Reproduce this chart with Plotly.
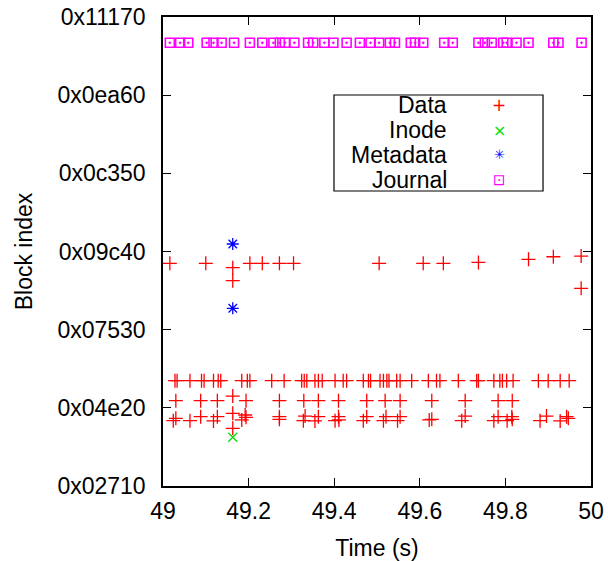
import plotly.graph_objects as go

# ---- data (time in s, block index) ----
journal_t = [49.016, 49.040, 49.059, 49.102, 49.118, 49.137, 49.166, 49.203, 49.232,
             49.258, 49.273, 49.285, 49.307, 49.339, 49.351, 49.377, 49.398, 49.429,
             49.460, 49.485, 49.505, 49.530, 49.542, 49.579, 49.589, 49.608, 49.657,
             49.677, 49.737, 49.752, 49.768, 49.795, 49.803, 49.826, 49.854, 49.912,
             49.924, 49.978]
journal_b = [66700] * len(journal_t)

data_hi_t = [49.016, 49.100, 49.163, 49.163, 49.203, 49.232, 49.272, 49.305, 49.505,
             49.608, 49.655, 49.737, 49.854, 49.912, 49.977, 49.977]
data_hi_b = [38490, 38490, 37930, 36270, 38490, 38490, 38490, 38490, 38490,
             38490, 38490, 38600, 39000, 39330, 39420, 35290]

data_r1_t = [49.028, 49.033, 49.063, 49.090, 49.096, 49.118, 49.129, 49.135, 49.184,
             49.197, 49.203, 49.254, 49.283, 49.324, 49.330, 49.336, 49.355, 49.363,
             49.372, 49.402, 49.421, 49.429, 49.468, 49.480, 49.485, 49.507, 49.515,
             49.523, 49.528, 49.546, 49.554, 49.581, 49.620, 49.639, 49.647, 49.690,
             49.733, 49.737, 49.773, 49.787, 49.793, 49.803, 49.818, 49.877, 49.900,
             49.928, 49.949]
data_r1_b = [23470] * len(data_r1_t)

data_r2_t = [49.030, 49.088, 49.127, 49.163, 49.194, 49.272, 49.329, 49.363, 49.410,
             49.476, 49.519, 49.554, 49.628, 49.706, 49.783, 49.816]
data_r2_b = [20910, 20910, 20910, 21510, 20910, 20910, 20910, 20910, 20910,
             20910, 20910, 20910, 20910, 20910, 20910, 20910]

data_r3_t = [49.024, 49.030, 49.063, 49.088, 49.118, 49.127, 49.163, 49.163, 49.184,
             49.192, 49.194, 49.272, 49.272, 49.328, 49.332, 49.355, 49.363, 49.402,
             49.410, 49.411, 49.468, 49.476, 49.515, 49.521, 49.548, 49.554, 49.622,
             49.628, 49.698, 49.706, 49.773, 49.783, 49.804, 49.815, 49.816, 49.881,
             49.896, 49.928, 49.943, 49.947]
data_r3_b = [18360, 18660, 18360, 18870, 18320, 18870, 19300, 17380, 18450,
             19080, 18780, 18870, 18530, 18360, 18950, 18320, 18870, 18360,
             18870, 18450, 18360, 18870, 18360, 18870, 18360, 18870, 18450,
             18530, 18360, 18950, 18360, 18870, 18360, 18870, 18530, 18360,
             18950, 18320, 18870, 18660]

inode_t = [49.163]
inode_b = [16230]

meta_t = [49.163, 49.163]
meta_b = [40960, 32730]

data_t = data_hi_t + data_r1_t + data_r2_t + data_r3_t
data_b = data_hi_b + data_r1_b + data_r2_b + data_r3_b

x_ticks = [49, 49.2, 49.4, 49.6, 49.8, 50]
x_labels = ["49", "49.2", "49.4", "49.6", "49.8", "50"]
y_ticks = [10000, 20000, 30000, 40000, 50000, 60000, 70000]
y_labels = ["0x%05x" % v for v in y_ticks]

series_names = ["Data", "Inode", "Metadata", "Journal"]
series_colors = ["#ff0000", "#00dd00", "#0000ff", "#ff00ff"]
legend_keys = ["+", "\u00d7", "\u2733", "\u22a1"]

FONT = "Liberation Sans, Arial, sans-serif"
FS = 23

fig = go.Figure()
fig.add_trace(go.Scatter(x=data_t, y=data_b, mode="markers", name=series_names[0],
                         marker=dict(symbol="cross-thin-open", size=10, color=series_colors[0],
                                     line=dict(color=series_colors[0], width=1.3))))
fig.add_trace(go.Scatter(x=inode_t, y=inode_b, mode="markers", name=series_names[1],
                         marker=dict(symbol="x-thin-open", size=9, color=series_colors[1],
                                     line=dict(color=series_colors[1], width=1.3))))
fig.add_trace(go.Scatter(x=meta_t, y=meta_b, mode="markers", name=series_names[2],
                         marker=dict(symbol="asterisk-open", size=10, color=series_colors[2],
                                     line=dict(color=series_colors[2], width=1.3))))
fig.add_trace(go.Scatter(x=journal_t, y=journal_b, mode="markers", name=series_names[3],
                         marker=dict(symbol="square-open-dot", size=9, color=series_colors[3],
                                     line=dict(color=series_colors[3], width=1.6))))

axis_common = dict(showline=True, linecolor="black", linewidth=1.5, mirror="allticks",
                   ticks="inside", ticklen=8, tickcolor="black", tickwidth=1.2,
                   showgrid=False, zeroline=False, automargin=False,
                   ticklabeloverflow="allow",
                   tickfont=dict(family=FONT, size=FS, color="black"))

fig.update_xaxes(range=[49, 50], tickvals=x_ticks, ticktext=x_labels,
                 title=dict(text="Time (s)", font=dict(family=FONT, size=FS, color="black"),
                            standoff=17),
                 ticklabelstandoff=4, **axis_common)
fig.update_yaxes(range=[10000, 70000], tickvals=y_ticks, ticktext=y_labels,
                 title=dict(text="Block index", font=dict(family=FONT, size=FS, color="black"),
                            standoff=18),
                 ticklabelstandoff=11, **axis_common)

# gnuplot-style key: right-aligned labels followed by the sample symbol
fig.add_shape(type="rect", xref="paper", yref="paper", x0=0.3995, x1=0.8879,
              y0=0.629, y1=0.8337, line=dict(color="black", width=1.2),
              fillcolor="white", layer="above")
key_y = [0.812, 0.759, 0.706, 0.652]
key_sizes = [17, 16, 13, 15]
for name, col, key, ky, ks in zip(series_names, series_colors, legend_keys, key_y, key_sizes):
    fig.add_annotation(x=0.668, y=ky, xref="paper", yref="paper", text=name,
                       xanchor="right", yanchor="middle", showarrow=False,
                       font=dict(family=FONT, size=FS, color="black"))
    fig.add_annotation(x=0.786, y=ky, xref="paper", yref="paper", text=key,
                       xanchor="center", yanchor="middle", showarrow=False,
                       font=dict(family="DejaVu Sans", size=ks, color=col))

fig.update_layout(
    width=608, height=561,
    margin=dict(l=163, r=17, t=17, b=75),
    plot_bgcolor="white", paper_bgcolor="white",
    font=dict(family=FONT, size=FS, color="black"),
    showlegend=False,
)

fig.write_html("out.html", config={"displayModeBar": False},
               post_script="document.body.style.margin='0';")
